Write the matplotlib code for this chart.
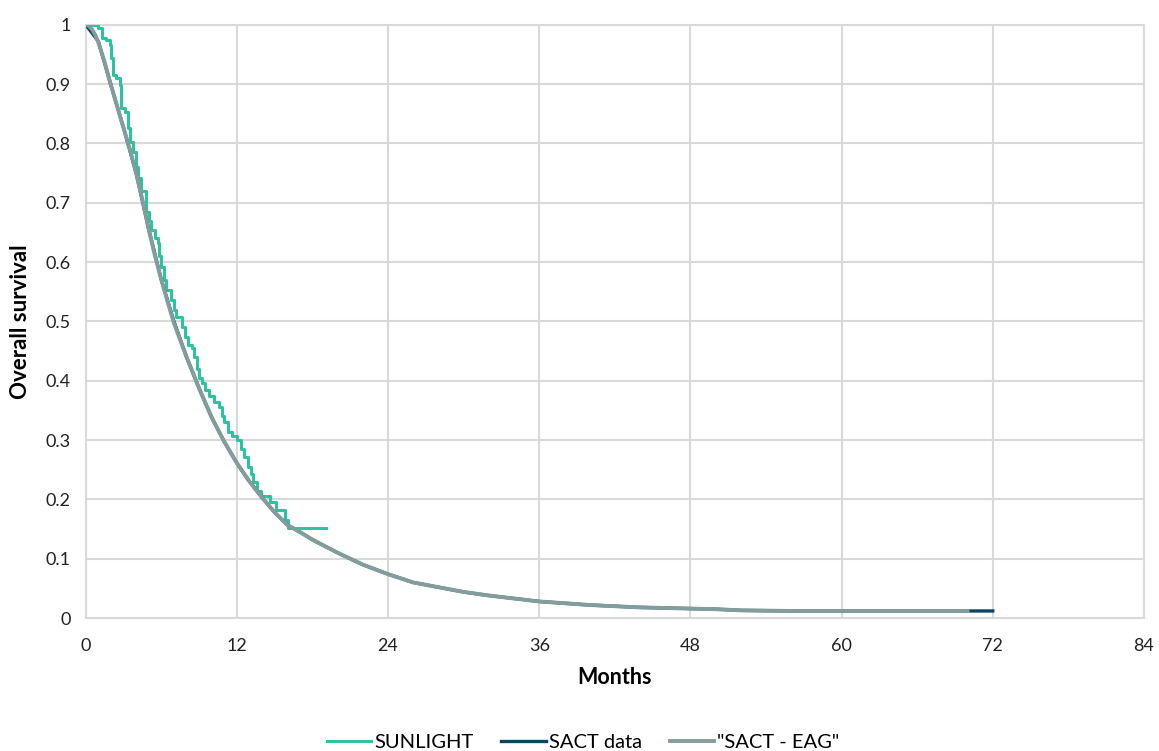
import matplotlib.pyplot as plt
from matplotlib.ticker import FuncFormatter

plt.rcParams['font.family'] = ['Lato', 'DejaVu Sans']

# SUNLIGHT Kaplan-Meier steps (months, survival after drop)
sun_t = [0, 0.95, 1.25, 1.6, 1.9, 2.0, 2.2, 2.4, 2.7, 2.8, 3.1, 3.36, 3.5, 3.75,
         4.0, 4.15, 4.4, 4.8, 5.0, 5.2, 5.5, 5.7, 5.85, 6.0, 6.2, 6.4, 6.8, 7.0,
         7.2, 7.6, 7.86, 8.1, 8.4, 8.6, 8.8, 9.0, 9.2, 9.5, 9.8, 10.2, 10.6, 10.8,
         11.0, 11.3, 11.6, 12.0, 12.3, 12.6, 12.9, 13.1, 13.3, 13.6, 13.94, 14.6,
         15.1, 15.8, 16.05, 19.1]
sun_s = [1.0, 0.995, 0.978, 0.975, 0.966, 0.944, 0.916, 0.91, 0.899, 0.86, 0.853,
         0.826, 0.803, 0.786, 0.76, 0.742, 0.719, 0.685, 0.67, 0.654, 0.64, 0.632,
         0.61, 0.592, 0.57, 0.553, 0.536, 0.52, 0.508, 0.491, 0.474, 0.46, 0.455,
         0.44, 0.42, 0.405, 0.396, 0.385, 0.375, 0.365, 0.356, 0.34, 0.33, 0.314,
         0.307, 0.30, 0.285, 0.272, 0.255, 0.243, 0.23, 0.215, 0.205, 0.196,
         0.182, 0.165, 0.151, 0.151]

# SACT observed data
sact_t = [0, 1, 2, 3, 4, 5, 6, 7, 8, 9, 10, 11, 12, 13, 14, 15, 16, 17, 18, 20,
          22, 24, 26, 28, 30, 32, 34, 36, 38, 40, 42, 44, 46, 48, 50, 52, 56, 72]
sact_s = [1.0, 0.972, 0.898, 0.826, 0.75, 0.655, 0.57, 0.50, 0.44, 0.387, 0.338,
          0.297, 0.261, 0.230, 0.203, 0.178, 0.157, 0.145, 0.132, 0.110, 0.090,
          0.074, 0.060, 0.052, 0.044, 0.038, 0.033, 0.028, 0.025, 0.022, 0.020,
          0.018, 0.017, 0.016, 0.015, 0.013, 0.012, 0.012]

# "SACT - EAG" curve
eag_t = [0, 0.25, 0.5, 0.75, 1, 1.5, 2, 2.5, 3, 3.5, 4, 4.5, 5, 5.5, 6, 6.5, 7, 8,
         9, 10, 11, 12, 13, 14, 15, 16, 17, 18, 20, 22, 24, 26, 28, 30, 32, 34,
         36, 38, 40, 42, 44, 46, 48, 50, 52, 56, 70]
eag_s = [1.0, 0.998, 0.992, 0.983, 0.970, 0.937, 0.898, 0.862, 0.826, 0.79, 0.75,
         0.705, 0.655, 0.61, 0.57, 0.533, 0.497, 0.44, 0.387, 0.338, 0.297, 0.261,
         0.230, 0.203, 0.178, 0.157, 0.145, 0.132, 0.110, 0.090, 0.074, 0.060,
         0.052, 0.044, 0.038, 0.033, 0.028, 0.025, 0.022, 0.020, 0.018, 0.017,
         0.016, 0.015, 0.013, 0.012, 0.012]

x_ticks = list(range(0, 85, 12))
y_ticks = [i / 10 for i in range(11)]

fig, ax = plt.subplots(figsize=(11.59, 7.51), dpi=100)
fig.subplots_adjust(left=0.074, right=0.987, top=0.967, bottom=0.177)

ax.step(sun_t, sun_s, where='post', color='#2DC2A0', lw=2.2, label='SUNLIGHT', zorder=3)
ax.plot(sact_t, sact_s, color='#0B4660', lw=2.4, label='SACT data', zorder=4)
ax.plot(eag_t, eag_s, color='#839C9C', lw=2.8, label='"SACT - EAG"', zorder=5)

ax.set_xlim(0, 84)
ax.set_ylim(0, 1)
ax.set_xticks(x_ticks)
ax.set_yticks(y_ticks)
ax.yaxis.set_major_formatter(FuncFormatter(lambda v, p: f'{v:g}'))
ax.tick_params(length=0, labelsize=13, colors='#222222')
ax.tick_params(axis='x', pad=14)
ax.tick_params(axis='y', pad=11)
ax.grid(True, color='#D9D9D9', lw=1.5, zorder=0)
for s in ax.spines.values():
    s.set_color('#D9D9D9')
    s.set_linewidth(1.5)

ax.set_xlabel('Months', fontsize=15.5, fontweight='bold', labelpad=10)
ax.set_ylabel('Overall survival', fontsize=16, fontweight='bold', labelpad=10)

ax.legend(loc='upper center', bbox_to_anchor=(0.47, -0.165), ncol=3, frameon=False,
          fontsize=14.5, handlelength=2.2, handletextpad=0.15, columnspacing=1.4)

plt.savefig('out.png', dpi=100)
